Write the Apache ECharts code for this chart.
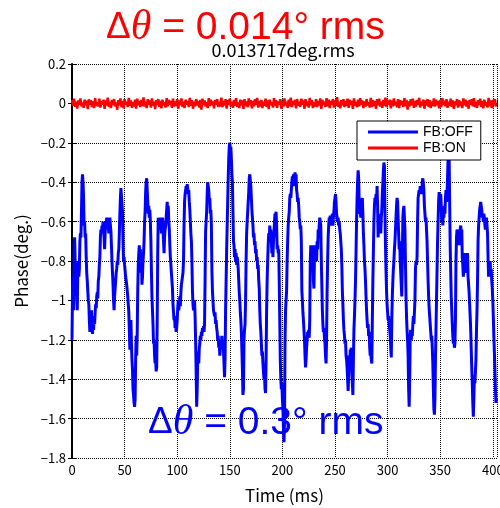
<!DOCTYPE html>
<html><head><meta charset="utf-8">
<script src="https://cdn.jsdelivr.net/npm/echarts@6/dist/echarts.min.js"></script>
<style>html,body{margin:0;padding:0;background:#fff;overflow:hidden}#c{width:500px;height:508px}</style>
</head><body><div id="c"></div>
<script>
// ---- data ----
const xMin = 0, xMax = 404, xInterval = 50;
const yMin = -1.8, yMax = 0.2, yInterval = 0.2;
const seriesNames = ['FB:OFF', 'FB:ON'];
const titleText = '0.013717deg.rms';
const xName = 'Time (ms)';
const yName = 'Phase(deg.)';

// FB:OFF phase (deg.), sampled every 0.5 ms from 0 ms
const blueStep = 0.5;
const blueValues = [
-1.20,-0.95,-0.88,-1.05,-0.72,-0.68,-0.80,-0.92,-0.82,-0.98,-1.05,-0.85,-0.80,-0.88,-0.84,-0.70,-0.66,-0.68,-0.55,-0.40,
-0.36,-0.40,-0.48,-0.62,-0.60,-0.68,-0.66,-0.78,-0.86,-0.90,-0.95,-1.00,-1.02,-1.10,-1.16,-1.08,-1.12,-1.05,-1.15,-1.17,
-1.10,-1.15,-1.08,-1.12,-1.06,-1.02,-1.04,-0.98,-0.96,-0.99,-0.90,-0.88,-0.82,-0.78,-0.68,-0.64,-0.66,-0.62,-0.64,-0.60,
-0.63,-0.68,-0.74,-0.66,-0.60,-0.62,-0.58,-0.64,-0.59,-0.62,-0.66,-0.60,-0.58,-0.62,-0.65,-0.72,-0.80,-0.86,-0.92,-1.00,
-1.05,-0.98,-0.94,-0.90,-0.86,-0.84,-0.80,-0.82,-0.76,-0.74,-0.66,-0.56,-0.48,-0.43,-0.42,-0.44,-0.55,-0.70,-0.80,-0.78,
-0.82,-0.85,-0.88,-0.90,-0.92,-0.95,-0.98,-1.02,-1.06,-1.15,-1.25,-1.20,-1.10,-1.22,-1.30,-1.35,-1.45,-1.48,-1.52,-1.54,
-1.50,-1.30,-1.18,-1.28,-1.16,-0.95,-0.82,-0.76,-0.72,-0.80,-0.74,-0.86,-0.78,-0.92,-0.88,-0.80,-0.76,-0.70,-0.60,-0.55,
-0.45,-0.40,-0.38,-0.44,-0.50,-0.56,-0.52,-0.58,-0.54,-0.60,-0.70,-0.85,-0.98,-1.05,-1.12,-1.22,-1.20,-1.28,-1.32,-1.30,
-1.36,-1.34,-1.10,-0.75,-0.58,-0.60,-0.64,-0.58,-0.62,-0.60,-0.66,-0.62,-0.58,-0.64,-0.70,-0.76,-0.68,-0.64,-0.62,-0.58,
-0.54,-0.50,-0.56,-0.52,-0.60,-0.64,-0.72,-0.78,-0.82,-0.86,-0.90,-0.94,-1.02,-1.06,-1.10,-1.08,-1.14,-1.12,-1.16,-1.14,
-1.10,-1.04,-1.00,-1.05,-1.02,-0.98,-1.03,-0.96,-0.92,-0.90,-0.88,-0.86,-0.80,-0.62,-0.50,-0.46,-0.44,-0.42,-0.44,-0.41,
-0.43,-0.46,-0.44,-0.50,-0.54,-0.60,-0.66,-0.70,-0.80,-0.95,-1.02,-1.05,-1.05,-1.00,-1.08,-1.20,-1.35,-1.54,-1.45,-1.30,
-1.26,-1.32,-1.24,-1.22,-1.18,-1.20,-1.16,-1.18,-1.14,-1.16,-1.13,-1.16,-1.12,-0.90,-0.65,-0.60,-0.55,-0.46,-0.40,-0.39,
-0.44,-0.50,-0.48,-0.56,-0.54,-0.62,-0.85,-0.95,-1.00,-1.05,-1.04,-1.08,-1.06,-1.12,-1.10,-1.14,-1.16,-1.20,-1.18,-1.24,
-1.22,-1.28,-1.25,-1.20,-1.22,-1.18,-1.22,-1.20,-1.25,-1.32,-1.39,-1.30,-1.05,-0.90,-0.75,-0.62,-0.50,-0.38,-0.28,-0.22,
-0.20,-0.24,-0.22,-0.28,-0.36,-0.40,-0.55,-0.70,-0.72,-0.78,-0.74,-0.80,-0.76,-0.82,-0.78,-0.80,-0.84,-0.90,-0.96,-1.00,
-1.06,-1.10,-1.16,-1.25,-1.35,-1.48,-1.45,-1.20,-1.15,-1.12,-1.00,-0.80,-0.66,-0.60,-0.55,-0.50,-0.45,-0.38,-0.36,-0.37,
-0.42,-0.48,-0.54,-0.58,-0.62,-0.68,-0.66,-0.72,-0.70,-0.76,-0.74,-0.80,-0.78,-0.84,-0.82,-0.90,-0.94,-1.05,-1.12,-1.16,
-1.22,-1.28,-1.26,-1.32,-1.36,-1.40,-1.38,-1.45,-1.47,-1.30,-1.05,-0.90,-0.80,-0.72,-0.66,-0.70,-0.62,-0.68,-0.64,-0.70,
-0.76,-0.72,-0.78,-0.70,-0.66,-0.60,-0.56,-0.58,-0.55,-0.62,-0.74,-0.72,-0.76,-0.74,-0.90,-1.10,-1.30,-1.40,-1.45,-1.42,
-1.50,-1.55,-1.65,-1.72,-1.62,-1.20,-1.05,-1.00,-0.95,-0.80,-0.70,-0.62,-0.58,-0.55,-0.48,-0.46,-0.48,-0.44,-0.40,-0.37,
-0.40,-0.36,-0.42,-0.38,-0.35,-0.38,-0.36,-0.44,-0.46,-0.50,-0.48,-0.52,-0.58,-0.60,-0.64,-0.62,-0.70,-0.95,-1.00,-1.06,
-1.10,-1.15,-1.20,-1.28,-1.34,-1.30,-1.24,-1.20,-1.16,-1.18,-1.15,-1.19,-1.10,-0.80,-0.72,-0.76,-0.80,-0.72,-0.78,-0.90,
-0.94,-0.78,-0.72,-0.76,-0.72,-0.80,-0.70,-0.74,-0.64,-0.68,-0.62,-0.58,-0.57,-0.62,-0.80,-0.92,-1.05,-1.12,-1.16,-1.14,
-1.19,-1.22,-1.28,-1.32,-1.20,-0.95,-0.80,-0.68,-0.62,-0.58,-0.60,-0.57,-0.62,-0.58,-0.60,-0.56,-0.62,-0.58,-0.55,-0.50,
-0.48,-0.46,-0.50,-0.56,-0.58,-0.60,-0.58,-0.62,-0.60,-0.64,-0.66,-0.70,-0.74,-0.82,-0.95,-1.02,-1.10,-1.15,-1.18,-1.22,
-1.20,-1.28,-1.30,-1.34,-1.40,-1.46,-1.38,-1.28,-1.34,-1.25,-1.30,-1.24,-1.36,-1.42,-1.48,-1.30,-1.15,-1.08,-1.00,-0.90,
-0.76,-0.60,-0.48,-0.40,-0.34,-0.38,-0.50,-0.56,-0.54,-0.58,-0.55,-0.50,-0.48,-0.56,-0.66,-0.72,-0.80,-0.84,-0.90,-0.98,
-1.05,-1.10,-1.14,-1.12,-1.18,-1.16,-1.24,-1.28,-1.26,-1.30,-1.32,-1.10,-0.90,-0.75,-0.60,-0.52,-0.48,-0.50,-0.46,-0.50,
-0.42,-0.52,-0.68,-0.60,-0.56,-0.64,-0.60,-0.66,-0.58,-0.54,-0.46,-0.40,-0.34,-0.30,-0.32,-0.55,-0.72,-0.85,-0.95,-1.02,
-1.06,-1.10,-1.08,-1.12,-1.15,-1.18,-1.24,-1.29,-1.10,-0.98,-0.90,-0.84,-0.80,-0.74,-0.70,-0.64,-0.58,-0.52,-0.48,-0.50,
-0.58,-0.66,-0.74,-0.70,-0.80,-0.86,-0.92,-0.98,-0.80,-0.58,-0.54,-0.52,-0.58,-0.64,-0.82,-0.98,-1.08,-1.15,-1.20,-1.28,
-1.45,-1.54,-1.40,-1.18,-1.15,-1.20,-1.16,-1.18,-1.12,-1.08,-1.12,-1.06,-1.00,-0.84,-0.80,-0.82,-0.78,-0.60,-0.48,-0.46,
-0.44,-0.46,-0.42,-0.45,-0.43,-0.46,-0.40,-0.38,-0.37,-0.44,-0.52,-0.56,-0.60,-0.58,-0.64,-0.70,-0.80,-0.90,-0.98,-1.04,
-1.08,-1.12,-1.16,-1.20,-1.18,-1.24,-1.32,-1.45,-1.55,-1.58,-1.50,-1.30,-1.15,-1.00,-0.85,-0.70,-0.60,-0.50,-0.45,-0.44,
-0.50,-0.46,-0.52,-0.60,-0.56,-0.62,-0.54,-0.58,-0.52,-0.56,-0.48,-0.44,-0.50,-0.46,-0.38,-0.28,-0.24,-0.28,-0.50,-0.72,
-0.86,-0.98,-1.05,-1.12,-1.18,-1.22,-1.20,-1.24,-1.22,-1.10,-0.80,-0.68,-0.64,-0.66,-0.70,-0.66,-0.72,-0.68,-0.64,-0.62,
-0.66,-0.64,-0.78,-0.82,-0.88,-0.84,-0.76,-0.80,-0.86,-0.80,-0.78,-0.82,-0.76,-0.88,-0.92,-0.96,-1.02,-1.08,-1.15,-1.25,
-1.34,-1.42,-1.52,-1.59,-1.50,-1.38,-1.42,-1.36,-1.30,-1.15,-1.05,-0.90,-0.70,-0.62,-0.58,-0.54,-0.52,-0.50,-0.49,-0.54,
-0.58,-0.56,-0.60,-0.56,-0.58,-0.62,-0.64,-0.60,-0.58,-0.62,-0.66,-0.78,-0.88,-0.82,-0.86,-0.80,-0.88,-0.84,-0.90,-0.94,
-1.00,-1.08,-1.18,-1.26,-1.35,-1.45,-1.52,-1.50
];

// FB:ON phase in milli-degrees, sampled every 1 ms from 0 ms
const redStep = 1;
const redValuesMdeg = [
18,-12,24,-17,9,-26,15,-6,25,-15,5,-22,19,-9,14,-29,21,-3,16,-19,
11,-24,27,-13,6,-16,24,-21,12,-5,19,-28,15,-10,29,-18,8,-24,18,-8,
22,-15,5,-32,16,-9,25,-19,13,-25,21,-6,9,-18,28,-12,15,-22,6,-15,
19,-27,24,-9,12,-19,18,-13,31,-16,8,-24,21,-5,15,-21,25,-12,9,-29,
16,-8,22,-18,13,-25,19,-10,6,-21,27,-15,18,-6,12,-22,24,-16,10,-13,
21,-28,15,-9,25,-18,8,-24,19,-5,13,-19,28,-12,16,-27,9,-15,22,-10,
12,-21,18,-31,24,-8,15,-16,6,-24,27,-13,19,-9,10,-25,18,-5,22,-18,
9,-15,29,-19,13,-10,21,-27,16,-6,24,-16,8,-22,18,-12,27,-18,5,-24,
19,-9,15,-28,22,-13,10,-19,25,-8,16,-25,13,-15,21,-5,28,-21,12,-16,
18,-24,9,-12,24,-18,15,-29,19,-9,6,-21,27,-13,16,-22,10,-6,21,-27,
13,-16,25,-10,8,-22,19,-15,29,-19,12,-8,18,-25,22,-12,9,-18,24,-6,
15,-27,21,-13,10,-21,28,-9,16,-24,6,-16,22,-19,13,-10,25,-28,18,-8,
9,-18,27,-15,19,-24,12,-6,22,-21,15,-12,32,-18,8,-25,16,-9,21,-19,
12,-13,24,-22,18,-8,13,-28,25,-12,9,-19,19,-15,27,-6,15,-24,10,-16,
22,-10,6,-21,28,-18,16,-13,12,-27,21,-9,24,-16,8,-22,18,-12,29,-19,
13,-6,19,-25,15,-15,25,-10,9,-19,22,-24,16,-8,12,-18,27,-13,18,-31,
10,-15,21,-9,24,-22,13,-16,18,-6,28,-21,9,-12,19,-27,15,-10,22,-18,
16,-24,8,-13,25,-16,19,-9,12,-25,18,-19,27,-8,13,-15,21,-22,9,-12,
24,-18,15,-28,10,-9,22,-21,16,-13,8,-24,25,-10,19,-16,12,-27,18,-6,
21,-15,27,-19,9,-22,16,-8,24,-18,13,-25,19,-12,6,-21,28,-13,15,-24,
18,-10,22,-16
];

// annotation texts
const redNote = { delta: 'Δ', theta: 'θ', rest: ' = 0.014° rms' };
const blueNote = { delta: 'Δ', theta: 'θ', rest: ' = 0.3° rms' };

// ---- build ----
const blueData = blueValues.map((v, i) => [i * blueStep, v]);
const redData = redValuesMdeg.map((v, i) => [i * redStep, v / 1000]);

const labelFont = '"Noto Sans CJK JP", "Liberation Sans", sans-serif';
const fmtY = v => { const r = Math.round(v * 10) / 10; return (r < 0 ? '\u2212' : '') + String(Math.abs(r)); };

function note(n, color, size) {
  return {
    text: '{d|' + n.delta + '}{t|' + n.theta + '}{n|' + n.rest + '}',
    rich: {
      d: { fontFamily: 'Liberation Sans', fontSize: size - 1, fill: color },
      t: { fontFamily: 'Liberation Serif', fontStyle: 'italic', fontSize: size + 4, fill: color },
      n: { fontFamily: 'Liberation Sans', fontSize: size + 1, fill: color }
    },
    align: 'left', verticalAlign: 'middle'
  };
}

const chart = echarts.init(document.getElementById('c'), null, { renderer: 'canvas', width: 500, height: 508 });
chart.setOption({
  animation: false,
  backgroundColor: '#fff',
  grid: { left: 72, top: 64, width: 425, height: 394, containLabel: false, outerBoundsMode: 'none' },
  legend: {
    orient: 'vertical', left: 357, top: 121,
    data: seriesNames, icon: 'rect', itemWidth: 50, itemHeight: 3, itemGap: 2, itemTextGap: 7,
    padding: [4, 8, 5, 11], borderColor: '#000', borderWidth: 1, backgroundColor: '#fff', borderRadius: 0,
    textStyle: { fontSize: 14, color: '#000', fontFamily: 'Liberation Sans' }, z: 10
  },
  xAxis: [
    {
      type: 'value', min: xMin, max: xMax, interval: xInterval, position: 'bottom',
      name: xName, nameLocation: 'middle', nameGap: 29,
      nameTextStyle: { fontSize: 17, color: '#000', fontFamily: labelFont },
      axisLine: { lineStyle: { color: '#000', width: 2 } },
      axisTick: { inside: true, length: 4, lineStyle: { color: '#000' } },
      axisLabel: { color: '#000', fontSize: 13, margin: 6, fontFamily: labelFont, hideOverlap: false,
        formatter: v => (v % xInterval === 0 ? String(v) : '') },
      splitLine: { show: true, lineStyle: { color: '#000', type: 'dotted', width: 1 } }
    },
    {
      type: 'value', min: xMin, max: xMax, interval: xInterval, position: 'top',
      axisLine: { lineStyle: { color: '#000', width: 1.5 } },
      axisTick: { inside: true, length: 4, lineStyle: { color: '#000' } },
      axisLabel: { show: false }, splitLine: { show: false }
    }
  ],
  yAxis: [
    {
      type: 'value', min: yMin, max: yMax, interval: yInterval, position: 'left',
      name: yName, nameLocation: 'middle', nameGap: 42,
      nameTextStyle: { fontSize: 17, color: '#000', fontFamily: labelFont },
      axisLine: { lineStyle: { color: '#000', width: 2 } },
      axisTick: { inside: true, length: 4, lineStyle: { color: '#000' } },
      axisLabel: { color: '#000', fontSize: 13, margin: 6, fontFamily: labelFont, formatter: fmtY },
      splitLine: { show: true, lineStyle: { color: '#000', type: 'dotted', width: 1 } }
    },
    {
      type: 'value', min: yMin, max: yMax, interval: yInterval, position: 'right',
      axisLine: { lineStyle: { color: '#000', width: 1.5 } },
      axisTick: { inside: true, length: 4, lineStyle: { color: '#000' } },
      axisLabel: { show: false }, splitLine: { show: false }
    }
  ],
  series: [
    { name: seriesNames[0], type: 'line', data: blueData, showSymbol: false, symbol: 'none',
      color: '#0000ff', lineStyle: { color: '#0000ff', width: 3 }, z: 3 },
    { name: seriesNames[1], type: 'line', data: redData, showSymbol: false, symbol: 'none',
      color: '#ff0000', lineStyle: { color: '#ff0000', width: 2.5 }, z: 2 }
  ],
  graphic: [
    { type: 'text', x: 283, y: 50, z: 20,
      style: { text: titleText, fontSize: 18, fontFamily: labelFont, fill: '#000', align: 'center', verticalAlign: 'middle' } },
    { type: 'text', x: 106, y: 28, z: 20, style: note(redNote, '#ff0000', 38) },
    { type: 'text', x: 148, y: 423, z: 20, style: note(blueNote, '#0000ff', 38) }
  ]
});
</script>
</body></html>
